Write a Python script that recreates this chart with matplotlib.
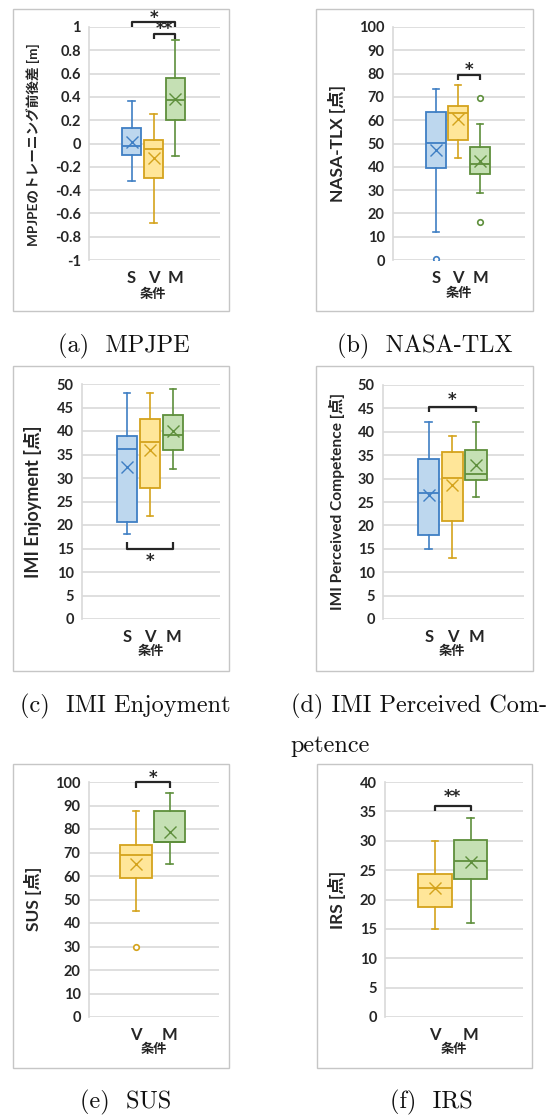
import matplotlib
matplotlib.use("Agg")
import matplotlib.pyplot as plt
from matplotlib.patches import Rectangle

# ---------------- data ----------------
COND3 = ["S", "V", "M"]
COND2 = ["V", "M"]

# five-number stats per condition: [whisker_low, q1, median, q3, whisker_high]
mpjpe_q = [[-0.326, -0.103, -0.02, 0.137, 0.363],
           [-0.683, -0.297, -0.043, 0.034, 0.249],
           [-0.106, 0.206, 0.377, 0.563, 0.886]]
mpjpe_mean = [0.017, -0.123, 0.38]
mpjpe_fliers = [[], [], []]

nasa_q = [[11.9, 39.3, 50.3, 63.6, 73.3],
          [43.6, 51.3, 63.3, 66.1, 75.3],
          [28.7, 36.9, 41.0, 48.7, 58.4]]
nasa_mean = [47.1, 60.4, 42.3]
nasa_fliers = [[0.3], [], [69.7, 16.1]]

enj_q = [[18.0, 20.7, 36.1, 39.0, 48.0],
         [22.0, 27.8, 37.6, 42.5, 48.0],
         [32.0, 36.0, 39.1, 43.5, 49.0]]
enj_mean = [32.4, 35.9, 40.0]
enj_fliers = [[], [], []]

comp_q = [[15.0, 17.9, 27.0, 34.1, 42.0],
          [13.0, 21.0, 30.1, 35.6, 39.0],
          [26.0, 29.8, 31.0, 36.1, 42.0]]
comp_mean = [26.6, 28.7, 32.9]
comp_fliers = [[], [], []]

sus_q = [[45.2, 59.3, 68.8, 73.2, 87.7],
         [65.2, 74.4, 74.5, 87.7, 95.2]]
sus_mean = [65.0, 78.6]
sus_fliers = [[30.0], []]

irs_q = [[15.0, 18.7, 22.0, 24.3, 30.0],
         [16.0, 23.5, 26.5, 30.2, 33.9]]
irs_mean = [21.9, 26.4]
irs_fliers = [[], []]

# significance: (i, j, bar_y, tip_y, star_y, label)
mpjpe_sig = [(0, 2, 1.043, 1.0, 1.075, "*"), (1, 2, 0.943, 0.90, 0.985, "**")]
nasa_sig = [(1, 2, 79.3, 77.1, 81.6, "*")]
enj_sig = [(0, 2, 15.0, 16.4, 12.3, "*")]
comp_sig = [(0, 2, 45.2, 44.2, 46.9, "*")]
sus_sig = [(0, 1, 100.0, 97.6, 101.5, "*")]
irs_sig = [(0, 1, 36.0, 35.1, 37.5, "**")]

mpjpe_ticks = [-1, -0.8, -0.6, -0.4, -0.2, 0, 0.2, 0.4, 0.6, 0.8, 1]
nasa_ticks = list(range(0, 101, 10))
imi_ticks = list(range(0, 51, 5))
sus_ticks = list(range(0, 101, 10))
irs_ticks = list(range(0, 41, 5))

# ---------------- style ----------------
W, H = 560, 1116
FONT = ["Lato", "Noto Sans CJK JP", "DejaVu Sans"]
plt.rcParams["font.family"] = FONT
TXT = "#262626"
EDGE = {"S": "#3F7FC4", "V": "#D4A31C", "M": "#5E8F3C"}
FILL = {"S": "#BDD7EE", "V": "#FFE699", "M": "#C5E0B4"}
GRID = "#D9D9D9"

fig = plt.figure(figsize=(W / 100, H / 100), dpi=100)
fig.patch.set_facecolor("white")


def rect(l, t, r, b):
    return [l / W, 1 - b / H, (r - l) / W, (b - t) / H]


def ftext(x, y, s, **kw):
    fig.text(x / W, 1 - y / H, s, **kw)


def frame(l, t, r, b):
    fig.add_artist(Rectangle((l / W, 1 - b / H), (r - l) / W, (b - t) / H,
                             transform=fig.transFigure, fill=False,
                             ec="#C6C6C6", lw=1.0))


def fmt(v):
    return "%g" % v


def panel(plot_px, frame_px, conds, qs, means, fliers, ticks, sig,
          ylabel, ylab_px, ylab_size, cond_px, pos, width):
    frame(*frame_px)
    ax = fig.add_axes(rect(*plot_px))
    stats = []
    for c, q, m, f in zip(conds, qs, means, fliers):
        stats.append(dict(whislo=q[0], q1=q[1], med=q[2], q3=q[3],
                          whishi=q[4], mean=m, fliers=f, label=c))
    bp = ax.bxp(stats, positions=pos, widths=width, patch_artist=True,
                showmeans=True, showfliers=True, manage_ticks=False)
    for k, c in enumerate(conds):
        e = EDGE[c]
        bp["boxes"][k].set(facecolor=FILL[c], edgecolor=e, linewidth=1.3)
        bp["medians"][k].set(color=e, linewidth=1.3)
        for w in bp["whiskers"][2 * k:2 * k + 2]:
            w.set(color=e, linewidth=1.2)
        for cp in bp["caps"][2 * k:2 * k + 2]:
            cp.set(color=e, linewidth=1.2)
            xd = cp.get_xdata()
            mid = (xd[0] + xd[1]) / 2
            cp.set_xdata([mid - 0.024, mid + 0.024])
        bp["means"][k].set(marker="x", markersize=8, markeredgecolor=e,
                           markeredgewidth=1.0, linestyle="none")
        bp["fliers"][k].set(marker="o", markersize=4, markeredgecolor=e,
                            markerfacecolor="white", markeredgewidth=1.2)
    ax.set_xlim(0, 1)
    ax.set_ylim(ticks[0], ticks[-1])
    ax.set_yticks(ticks)
    ax.set_yticklabels([fmt(t) for t in ticks], fontsize=10.5,
                       fontweight="bold", color=TXT)
    ax.set_xticks(pos)
    ax.set_xticklabels(conds, fontsize=12, fontweight="bold", color=TXT)
    ax.tick_params(axis="both", length=0)
    ax.tick_params(axis="y", pad=6)
    ax.tick_params(axis="x", pad=7)
    ax.grid(axis="y", color=GRID, linewidth=1.2)
    ax.set_axisbelow(True)
    for s in ["top", "right", "bottom"]:
        ax.spines[s].set_visible(False)
    ax.spines["left"].set_color(GRID)
    ax.spines["left"].set_linewidth(1.2)
    ax.set_facecolor("none")
    for i, j, bar, tip, sy, lab in sig:
        x1, x2 = pos[i], pos[j]
        ax.plot([x1, x1, x2, x2], [tip, bar, bar, tip], color=TXT,
                lw=1.6, clip_on=False, solid_capstyle="butt")
        ax.text((x1 + x2) / 2, sy, lab, ha="center", va="center",
                fontsize=12, fontweight="bold", color=TXT, clip_on=False,
                family=["DejaVu Sans"])
    ftext(ylab_px[0], ylab_px[1], ylabel, rotation=90, ha="center",
          va="center", fontsize=ylab_size, fontweight="bold", color=TXT)
    ftext(cond_px[0], cond_px[1], "条件", ha="center", va="center",
          fontsize=9.5, fontweight="bold", color=TXT)
    return ax


P3 = [0.325, 0.4925, 0.66]
P2 = [0.362, 0.62]

panel((89, 27, 220, 260), (13, 9, 229, 311), COND3, mpjpe_q, mpjpe_mean,
      mpjpe_fliers, mpjpe_ticks, mpjpe_sig, "MPJPEのトレーニング前後差 [m]",
      (33, 145), 9.8, (153, 294), P3, 0.15)
panel((393, 27, 525, 260), (316, 9, 533, 311), COND3, nasa_q, nasa_mean,
      nasa_fliers, nasa_ticks, nasa_sig, "NASA-TLX [点]",
      (337, 144), 12.5, (459, 293), P3, 0.15)
panel((82, 384, 220, 619), (13, 366, 229, 671), COND3, enj_q, enj_mean,
      enj_fliers, imi_ticks, enj_sig, "IMI Enjoyment [点]",
      (33, 502), 13, (151, 651), P3, 0.15)
panel((383, 385, 524, 619), (316, 366, 533, 671), COND3, comp_q, comp_mean,
      comp_fliers, imi_ticks, comp_sig, "IMI Perceived Competence [点]",
      (337, 502), 11.2, (452, 651), P3, 0.15)
panel((89, 782, 219, 1017), (13, 764, 229, 1068), COND2, sus_q, sus_mean,
      sus_fliers, sus_ticks, sus_sig, "SUS [点]",
      (33, 899), 12.5, (154, 1049), P2, 0.24)
panel((385, 782, 523, 1017), (317, 764, 532, 1068), COND2, irs_q, irs_mean,
      irs_fliers, irs_ticks, irs_sig, "IRS [点]",
      (337, 900), 12.5, (454, 1049), P2, 0.24)

# captions
CAP = dict(fontsize=17.5, family=["cmr10", "DejaVu Serif"], color="#111111",
           va="baseline")
ftext(124, 352, "(a)  MPJPE", ha="center", **CAP)
ftext(425, 352, "(b)  NASA-TLX", ha="center", **CAP)
ftext(125, 712, "(c)  IMI Enjoyment", ha="center", **CAP)
ftext(291, 712, "(d) IMI Perceived Com-", ha="left", **CAP)
ftext(290, 752, "petence", ha="left", **CAP)
ftext(126, 1108, "(e)  SUS", ha="center", **CAP)
ftext(431, 1108, "(f)  IRS", ha="center", **CAP)

fig.savefig("out.png", dpi=100, facecolor="white")
